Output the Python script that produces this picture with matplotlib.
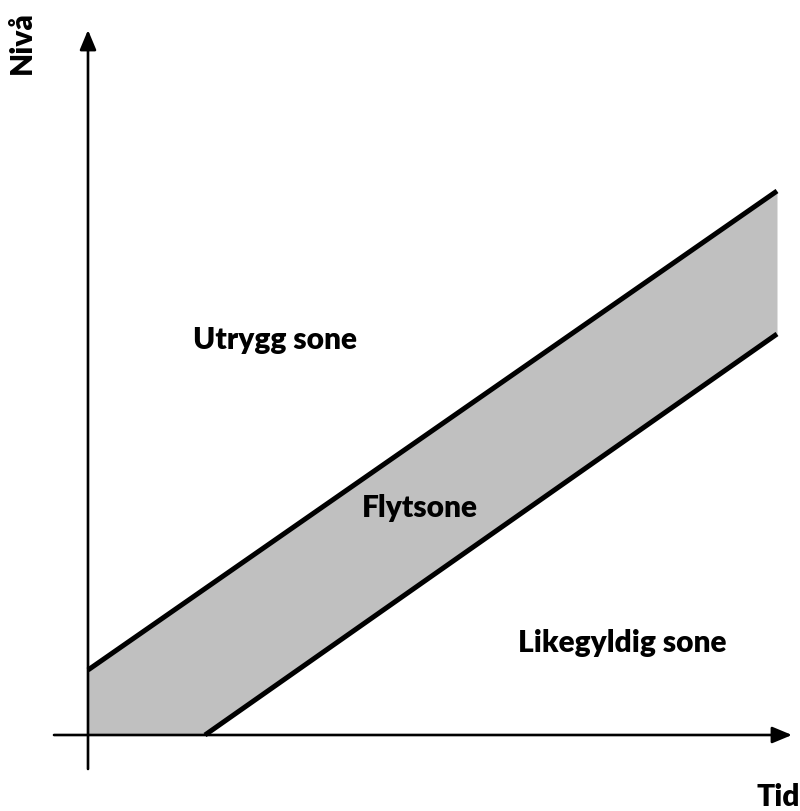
import numpy as np
import matplotlib.pyplot as plt

# pixel-like units: origin at the axis crossing
tid = [0, 117, 689]
ovre = [65, 544]          # upper boundary at tid[0] and tid[2]
nedre = [0, 401]          # lower boundary at tid[1] and tid[2]
soner = ["Utrygg sone", "Flytsone", "Likegyldig sone"]
sone_pos = [(187, 395), (332, 227), (534, 92)]

fig = plt.figure(figsize=(8, 8.11), dpi=100)
ax = fig.add_axes([0, 0, 1, 1])
ax.set_xlim(-88, 712)
ax.set_ylim(-76, 735)
ax.axis('off')

t = np.array([tid[0], tid[1], tid[2]])
up = np.interp(t, [tid[0], tid[2]], ovre)
lo = np.interp(t, [tid[1], tid[2]], nedre, left=0)
ax.fill_between(t, lo, up, color='#c0c0c0', lw=0)

ax.plot([tid[0], tid[2]], ovre, color='black', lw=3.6, solid_capstyle='butt')
ax.plot([tid[1], tid[2]], nedre, color='black', lw=3.6, solid_capstyle='butt')

# axes with arrows
ax.annotate('', xy=(704, 0), xytext=(-34, 0),
            arrowprops=dict(arrowstyle='-|>,head_length=1.2,head_width=0.5',
                            color='black', lw=1.9, shrinkA=0, shrinkB=0))
ax.annotate('', xy=(0, 705), xytext=(0, -34),
            arrowprops=dict(arrowstyle='-|>,head_length=1.2,head_width=0.5',
                            color='black', lw=1.9, shrinkA=0, shrinkB=0))

font = dict(family=['Lato', 'DejaVu Sans'], fontweight='heavy', fontsize=21.5)
for s, (x, y) in zip(soner, sone_pos):
    ax.text(x, y, s, ha='center', va='center', **font)

ax.text(690, -62, 'Tid', ha='center', va='center', **font)
ax.text(-66, 692, 'Nivå', ha='center', va='center', rotation=90, **font)

fig.savefig('out.png', dpi=100)
